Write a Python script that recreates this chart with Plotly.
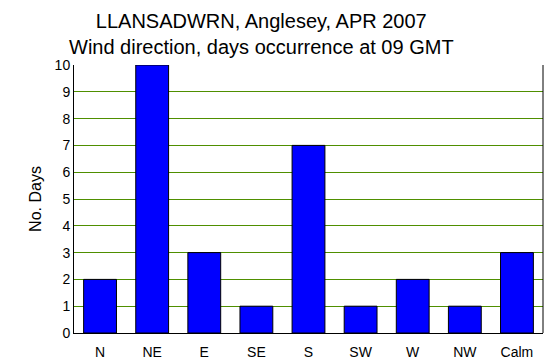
import plotly.graph_objects as go

categories = ["N", "NE", "E", "SE", "S", "SW", "W", "NW", "Calm"]
days = [2, 10, 3, 1, 7, 1, 2, 1, 3]
y_ticks = list(range(0, 11))

fig = go.Figure(go.Bar(
    x=categories, y=days,
    marker=dict(color="#0000FF", line=dict(color="#000000", width=1)),
    width=0.63,
))

# page has 8px default body margin; compensate
fig.update_layout(
    width=551, height=355,
    margin=dict(l=66, r=16, t=57, b=30),
    paper_bgcolor="white", plot_bgcolor="white",
    font=dict(family="Liberation Sans, Arial, sans-serif", color="#000000", size=14),
    showlegend=False,
    annotations=[dict(
        text="LLANSADWRN, Anglesey, APR 2007<br>Wind direction, days occurrence at 09 GMT",
        xref="paper", yref="paper", x=(261 - 74) / (543 - 74), y=1,
        xanchor="center", yanchor="bottom", yshift=5,
        showarrow=False, font=dict(size=20, color="#000000"),
    )],
)
fig.update_xaxes(
    showline=True, linecolor="#000000", linewidth=1, mirror=False,
    showgrid=False, ticks="", tickfont=dict(size=14), ticklabelstandoff=6,
    automargin=False,
)
fig.update_yaxes(
    range=[0, 10], tickvals=y_ticks, showgrid=True, gridcolor="#4F8F00", gridwidth=1,
    showline=True, linecolor="#000000", linewidth=1,
    ticks="", tickfont=dict(size=14),
    title=dict(text="No. Days", font=dict(size=16), standoff=9),
    zeroline=False, automargin=False,
)
fig.add_shape(type="line", xref="paper", yref="paper", x0=1, x1=1, y0=0, y1=1,
              line=dict(color="#000000", width=1))

fig.write_html("out.html")
